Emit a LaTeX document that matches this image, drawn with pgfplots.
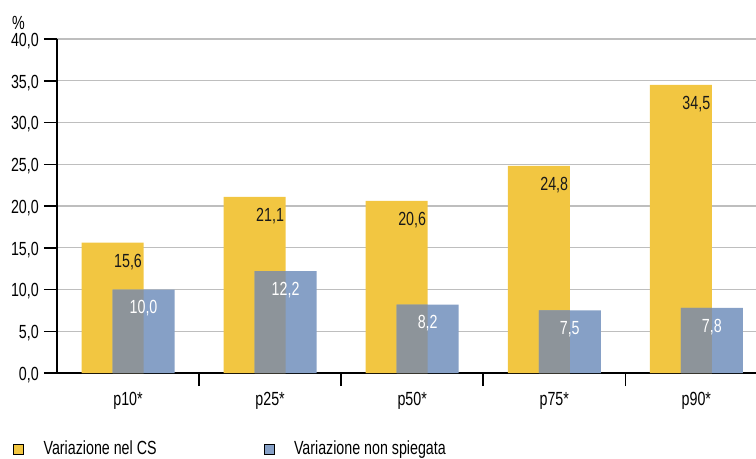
\documentclass[border=0pt]{standalone}
\usepackage{fontspec}
\setmainfont{Liberation Sans}[FakeStretch=0.75]
\usepackage{pgfplots}
\pgfplotsset{compat=1.18}
\definecolor{csyellow}{RGB}{242,198,65}
\definecolor{nsblue}{RGB}{134,160,198}
\definecolor{overlapgrey}{RGB}{141,148,154}
\definecolor{gridgrey}{RGB}{190,190,190}

\begin{document}
\fontsize{19bp}{22bp}\selectfont
\begin{tikzpicture}
\useasboundingbox (-57bp,-86bp) rectangle (699bp,373bp);
\begin{axis}[
  scale only axis, width=699bp, height=334bp,
  at={(0,0)}, anchor=south west,
  clip=false,
  xmin=-0.5, xmax=4.42, ymin=0, ymax=40,
  axis lines=left,
  axis line style={-, line width=1.5bp, black},
  ytick={0,5,...,40},
  xtick={0,...,4},
  xticklabels={p10*,p25*,p50*,p75*,p90*},
  minor xtick={0.5,1.5,2.5,3.5},
  tick align=outside,
  major tick length=13bp, minor tick length=13bp,
  major x tick style={draw=none},
  minor x tick style={black, line width=1.5bp},
  ytick style={black, line width=1.5bp},
  ymajorgrids,
  major y grid style={gridgrey, line width=1.3bp},
  /pgf/number format/.cd, fixed, fixed zerofill, precision=1, use comma,
  assume math mode=true,
  /pgfplots/.cd,
  yticklabel style={anchor=east, inner sep=0pt, xshift=-5bp, yshift=-2bp},
  xticklabel style={anchor=north, inner sep=0pt, yshift=-6bp},
  legend columns=2,
  legend cell align=left,
  legend style={at={(axis description cs:0,0)}, anchor=north west,
    xshift=-44bp, yshift=-68bp, draw=none, fill=none, inner sep=0pt,
    nodes={inner sep=0pt},
    /tikz/every odd column/.append style={column sep=20bp},
    /tikz/every even column/.append style={column sep=107bp}},
  legend image code/.code={\fill[#1] (0bp,-5bp) rectangle (10bp,5bp);},
]
% Variazione nel CS
\addplot[ybar, bar width=62bp, bar shift=-15.5bp, fill=csyellow, draw=none,
  forget plot, nodes near coords,
  nodes near coords style={text=black!90, anchor=center, inner sep=0pt, yshift=-19bp}]
  coordinates {(0,15.6) (1,21.1) (2,20.6) (3,24.8) (4,34.5)};
% Variazione non spiegata
\addplot[ybar, bar width=62bp, bar shift=15.5bp, fill=nsblue, draw=none, forget plot]
  coordinates {(0,10.0) (1,12.2) (2,8.2) (3,7.5) (4,7.8)};
% overlap of the two bars, with the labels of the second series
\addplot[ybar, bar width=31bp, bar shift=0bp, fill=overlapgrey, draw=none,
  forget plot, nodes near coords,
  nodes near coords style={text=white, anchor=center, inner sep=0pt,
    xshift=15.5bp, yshift=-19bp}]
  coordinates {(0,10.0) (1,12.2) (2,8.2) (3,7.5) (4,7.8)};
\addlegendimage{fill=csyellow}
\addlegendentry{Variazione nel CS}
\addlegendimage{fill=nsblue}
\addlegendentry{Variazione non spiegata}
\node[anchor=base west, inner sep=0pt] at (rel axis cs:0,1)
  [xshift=-45bp, yshift=10bp] {\%};
\end{axis}
\end{tikzpicture}
\end{document}
